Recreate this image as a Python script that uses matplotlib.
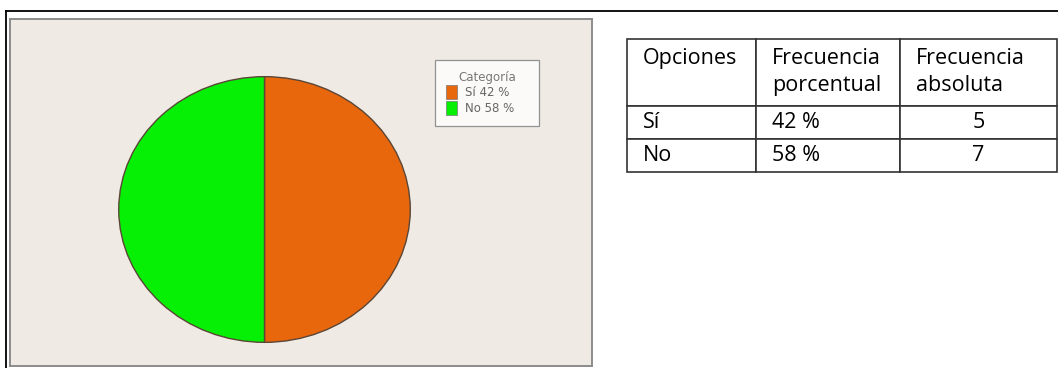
import matplotlib
matplotlib.use("Agg")
import matplotlib.pyplot as plt
from matplotlib.lines import Line2D

# data
options = ["Sí", "No"]
percent_labels = ["42 %", "58 %"]
absolute = [5, 7]
# the slices in the picture are drawn as two equal halves
slice_sizes = [1, 1]
slice_colors = ["#E8670C", "#05F005"]
header = ["Opciones", "Frecuencia\nporcentual", "Frecuencia\nabsoluta"]

W, H = 1058, 368
fig = plt.figure(figsize=(W / 100, H / 100), dpi=100)
fig.patch.set_facecolor("white")


def box(x0, y0, x1, y1):
    # pixel box (top-left origin) -> figure fraction rect
    return [x0 / W, 1 - y1 / H, (x1 - x0) / W, (y1 - y0) / H]


# outer frame lines
fig.add_artist(Line2D([6 / W, 1], [1 - 11 / H, 1 - 11 / H], color="black", lw=1.3))
fig.add_artist(Line2D([6 / W, 6 / W], [0, 1 - 11 / H], color="black", lw=1.3))

# chart panel
panel = fig.add_axes(box(10, 19, 592, 366))
panel.set_facecolor("#EFEAE3")
panel.set_xticks([])
panel.set_yticks([])
for s in panel.spines.values():
    s.set_color("#8c8c8c")
    s.set_linewidth(1.4)

# pie (slightly elliptical as in the picture)
pax = fig.add_axes(box(118, 76, 411, 343))
wedges, _ = pax.pie(slice_sizes, colors=slice_colors, startangle=90,
                    counterclock=False, radius=1,
                    wedgeprops=dict(edgecolor="#5b4636", linewidth=1.0))
pax.set_aspect("auto")
pax.set_xlim(-1.005, 1.005)
pax.set_ylim(-1.005, 1.005)
pax.axis("off")

leg_labels = [f"{o} {p}" for o, p in zip(options, percent_labels)]
lrect = box(435, 60, 539, 126)
leg = fig.legend(wedges, leg_labels, title="Categoría",
                 loc="upper left", bbox_to_anchor=tuple(lrect), mode="expand",
                 fontsize=8.5, title_fontsize=8.5, frameon=True, fancybox=False,
                 handlelength=1.0, handleheight=1.45, handletextpad=0.6,
                 labelspacing=0.15, borderpad=0.9, borderaxespad=0)
leg.get_frame().set_edgecolor("#7a7a7a")
leg.get_frame().set_linewidth(0.9)
leg.get_title().set_color("#777777")
for t in leg.get_texts():
    t.set_color("#666666")
for h in leg.legend_handles:
    h.set_edgecolor("#777777")
    h.set_linewidth(0.5)

# table
tax = fig.add_axes(box(627, 39, 1057, 172))
tax.axis("off")
rows = [[o, p, str(a)] for o, p, a in zip(options, percent_labels, absolute)]
col_w = [129, 144, 157]
tot = sum(col_w)
tbl = tax.table(cellText=rows, colLabels=header,
                colWidths=[c / tot for c in col_w],
                cellLoc="left", colLoc="left", bbox=[0, 0, 1, 1])
tbl.auto_set_font_size(False)
for (r, c), cell in tbl.get_celld().items():
    cell.set_height(66 if r == 0 else 33)
    cell.set_edgecolor("#333333")
    cell.set_linewidth(1.2)
    cell.PAD = 16 / col_w[c]
    txt = cell.get_text()
    txt.set_fontfamily("Open Sans")
    txt.set_fontsize(15.5)
    txt.set_color("black")
    txt.set_linespacing(1.4)
    if r == 0 and "\n" not in txt.get_text():
        # single-line header sits on the first line
        txt.set_text(txt.get_text() + "\n")
    if r > 0 and c == 2:
        cell._loc = "center"
        txt.set_horizontalalignment("center")

fig.savefig("out.png", dpi=100, facecolor="white")
